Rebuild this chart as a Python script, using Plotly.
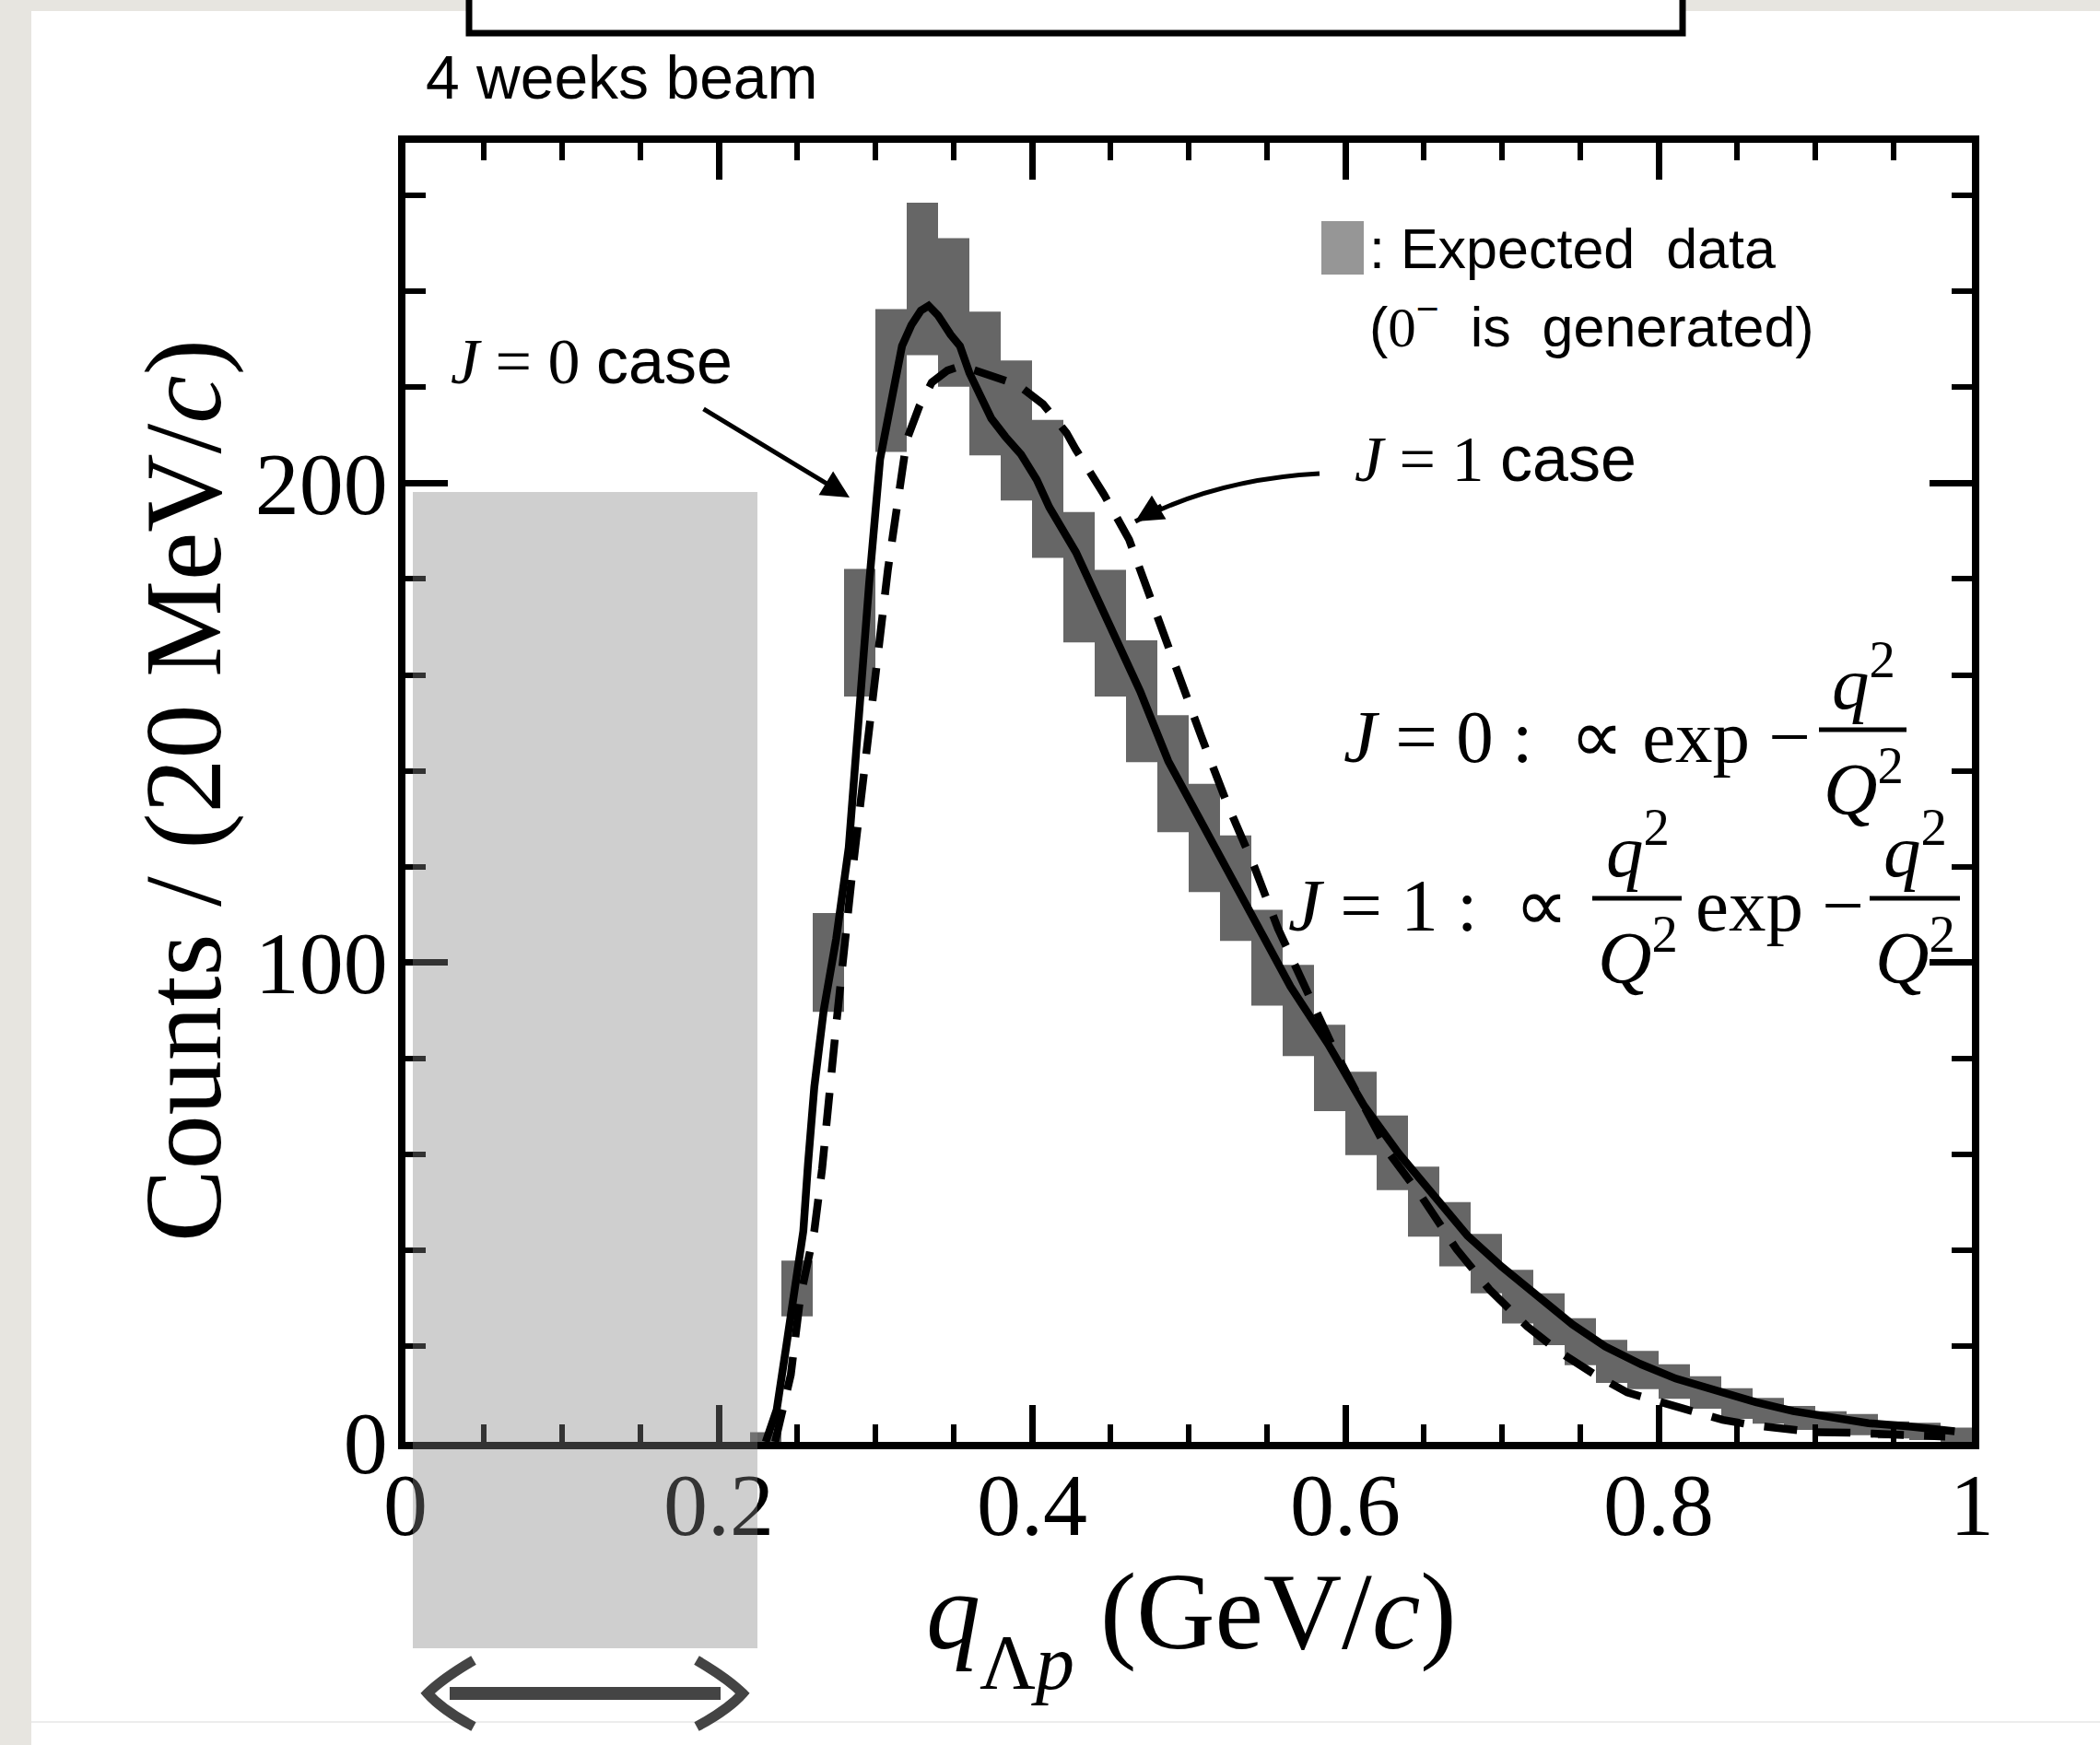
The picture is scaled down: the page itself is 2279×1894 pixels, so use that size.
import numpy as np
import plotly.graph_objects as go

# ---------------- data ----------------
# expected data, 20 MeV/c bins: bin centres, counts and their errors
bin_q = [0.23, 0.25, 0.27, 0.29, 0.31, 0.33, 0.35, 0.37, 0.39, 0.41,
         0.43, 0.45, 0.47, 0.49, 0.51, 0.53, 0.55, 0.57, 0.59, 0.61,
         0.63, 0.65, 0.67, 0.69, 0.71, 0.73, 0.75, 0.77, 0.79, 0.81,
         0.83, 0.85, 0.87, 0.89, 0.91, 0.93, 0.95, 0.97, 0.99]
counts = [1.0, 32.0, 100.0, 168.8, 221.4, 242.6, 235.6, 220.8, 211.0, 198.8,
          180.4, 168.7, 154.5, 139.4, 126.0, 115.5, 101.0, 90.0, 78.0, 68.5,
          60.3, 50.1, 43.3, 37.2, 30.3, 25.6, 20.9, 16.8, 15.0, 12.6,
          10.3, 8.0, 6.5, 5.0, 4.2, 3.6, 2.5, 2.2, 1.5]
count_err = [1.0, 5.8, 10.3, 13.3, 14.9, 15.9, 15.5, 15.0, 14.6, 14.4,
             13.6, 13.2, 12.7, 12.2, 11.3, 11.0, 10.0, 9.5, 9.0, 8.7,
             7.8, 7.3, 6.7, 6.2, 5.6, 5.4, 4.9, 4.5, 4.0, 3.6,
             3.4, 3.2, 2.7, 2.5, 2.2, 2.2, 1.8, 1.8, 1.5]

# J = 0 spectrum shape
j0_q = [0.230, 0.237, 0.243, 0.249, 0.254, 0.257, 0.261, 0.267, 0.275, 0.283,
        0.290, 0.296, 0.303, 0.311, 0.317, 0.323, 0.329, 0.334, 0.340, 0.348,
        0.354, 0.360, 0.368, 0.374, 0.383, 0.393, 0.403, 0.411, 0.428, 0.448,
        0.469, 0.487, 0.508, 0.530, 0.549, 0.565, 0.589, 0.612, 0.634, 0.655,
        0.678, 0.700, 0.723, 0.745, 0.766, 0.788, 0.811, 0.837, 0.862, 0.886,
        0.909, 0.934, 0.960, 0.989]
j0_counts = [0.0, 6.7, 19.7, 32.5, 44.0, 58.0, 74.0, 90.0, 105.0, 124.0,
             156.0, 179.0, 205.0, 219.5, 228.6, 233.0, 236.0, 237.0, 235.0, 231.0,
             228.6, 223.0, 218.0, 213.5, 209.7, 206.0, 200.7, 195.0, 185.6, 171.0,
             156.6, 142.0, 129.3, 115.7, 104.0, 95.0, 83.0, 70.1, 60.2, 51.7,
             43.0, 36.5, 30.2, 24.5, 19.9, 16.3, 13.2, 10.5, 8.3, 6.4,
             5.1, 3.9, 3.2, 2.2]

# J = 1 spectrum shape
j1_q = [0.236, 0.246, 0.252, 0.261, 0.266, 0.270, 0.275, 0.285, 0.296, 0.308,
        0.320, 0.328, 0.336, 0.346, 0.355, 0.370, 0.391, 0.407, 0.422, 0.428,
        0.446, 0.462, 0.477, 0.493, 0.508, 0.524, 0.542, 0.557, 0.575, 0.592,
        0.608, 0.628, 0.649, 0.671, 0.692, 0.716, 0.737, 0.759, 0.780, 0.800,
        0.819, 0.841, 0.860, 0.882, 0.901, 0.923, 0.944, 0.965, 0.983]
j1_counts = [0.0, 14.0, 30.0, 44.0, 57.0, 71.0, 87.0, 118.0, 149.0, 182.0,
             209.0, 216.0, 221.0, 223.5, 224.5, 223.0, 220.5, 216.5, 210.5, 207.0,
             197.6, 188.2, 174.5, 160.9, 147.2, 133.6, 119.9, 107.1, 94.3, 82.4,
             72.4, 60.2, 51.0, 40.2, 31.8, 24.1, 18.7, 14.1, 10.3, 8.3,
             6.4, 4.6, 3.5, 2.7, 2.0, 1.9, 1.6, 1.3, 1.1]

x_tickvals = [0, 0.2, 0.4, 0.6, 0.8, 1]
x_ticktext = ["0", "0.2", "0.4", "0.6", "0.8", "1"]
y_tickvals = [0, 100, 200]
y_ticktext = ["0", "100", "200"]

# ---------------- geometry helpers ----------------
W, H = 2279, 1894
L, R, T, B = 440, 139, 155, 329
PW, PH = W - L - R, H - T - B
Y_MAX = 271.0


def px(xp):
    """page pixel x -> paper x"""
    return (xp - L) / PW


def py(yp):
    """page pixel y -> paper y"""
    return (H - B - yp) / PH


def dx(xp):
    return px(xp) * 1.0


def dy(yp):
    return py(yp) * Y_MAX


SERIF = "Liberation Serif"
SANS = "Liberation Sans"

fig = go.Figure()

# expected data: boxes spanning count +- error
fig.add_trace(go.Bar(
    x=bin_q,
    y=[2 * e for e in count_err],
    base=[c - e for c, e in zip(counts, count_err)],
    width=0.02,
    marker=dict(color="#666666", line=dict(width=0)),
    showlegend=False,
    hoverinfo="skip",
))

fig.add_trace(go.Scatter(
    x=j0_q, y=j0_counts, mode="lines",
    line=dict(color="black", width=8.5),
    showlegend=False, hoverinfo="skip",
))
fig.add_trace(go.Scatter(
    x=j1_q, y=j1_counts, mode="lines",
    line=dict(color="black", width=8.5, dash="36px,22px"),
    showlegend=False, hoverinfo="skip",
))

x_minor = [v for v in np.round(np.arange(0, 1.0001, 0.05), 3) if v not in x_tickvals]
y_minor = [v for v in range(0, 272, 20) if v not in y_tickvals]

axis_common = dict(
    showline=True, linewidth=8, linecolor="black", mirror="ticks",
    ticks="inside", tickcolor="black", tickwidth=7,
    showgrid=False, zeroline=False,
    tickfont=dict(family=SERIF, size=96, color="black"),
)

fig.update_xaxes(
    range=[0, 1], tickmode="array", tickvals=x_tickvals, ticktext=x_ticktext,
    ticklen=40, ticklabelstandoff=-22,
    minor=dict(ticks="inside", ticklen=19, tickwidth=6, tickcolor="black",
               tickmode="array", tickvals=x_minor),
    **axis_common,
)
fig.update_yaxes(
    range=[0, Y_MAX], tickmode="array", tickvals=y_tickvals, ticktext=y_ticktext,
    ticklen=46, ticklabelstandoff=-8,
    minor=dict(ticks="inside", ticklen=22, tickwidth=6, tickcolor="black",
               tickmode="array", tickvals=y_minor),
    **axis_common,
)

shapes = []
# slide card
shapes.append(dict(type="rect", xref="paper", yref="paper", layer="below",
                   x0=px(34), x1=px(W + 10), y0=py(12), y1=py(H + 10),
                   fillcolor="white", line=dict(width=0)))
shapes.append(dict(type="line", xref="paper", yref="paper", layer="below",
                   x0=px(34), x1=px(W), y0=py(1869), y1=py(1869),
                   line=dict(color="#ececec", width=2)))
# box cut at the top of the page
shapes.append(dict(type="rect", xref="paper", yref="paper", layer="above",
                   x0=px(509), x1=px(1826), y0=py(-20), y1=py(36),
                   fillcolor="white", line=dict(color="black", width=7)))
# legend swatch
shapes.append(dict(type="rect", xref="paper", yref="paper", layer="above",
                   x0=px(1434), x1=px(1480), y0=py(298), y1=py(240),
                   fillcolor="#969696", line=dict(width=0)))
# fraction bars
for x0, x1, yb in [(1974, 2069, 792), (1728, 1825, 975), (2029, 2127, 975)]:
    shapes.append(dict(type="line", xref="paper", yref="paper", layer="above",
                       x0=px(x0), x1=px(x1), y0=py(yb), y1=py(yb),
                       line=dict(color="black", width=5)))
# curved pointer to the J = 1 curve
tail = (dx(1432), dy(514))
ctrl = (dx(1320), dy(520))
head = (dx(1232), dy(566))
shapes.append(dict(type="path", xref="x", yref="y", layer="above",
                   path=f"M {tail[0]},{tail[1]} Q {ctrl[0]},{ctrl[1]} {head[0]},{head[1]}",
                   line=dict(color="black", width=5)))
# shaded low-q region
shapes.append(dict(type="rect", xref="paper", yref="paper", layer="above",
                   x0=px(448), x1=px(822), y0=py(1789), y1=py(534),
                   fillcolor="rgba(131,131,131,0.39)", line=dict(width=0)))
# double arrow below the shaded region
arrow_col = "#444444"
shapes.append(dict(type="line", xref="paper", yref="paper", layer="above",
                   x0=px(488), x1=px(782), y0=py(1838), y1=py(1838),
                   line=dict(color=arrow_col, width=14)))
shapes.append(dict(type="path", xref="paper", yref="paper", layer="above",
                   path=(f"M {px(514)},{py(1802)} Q {px(480)},{py(1822)} {px(464)},{py(1838)} "
                         f"Q {px(480)},{py(1856)} {px(514)},{py(1874)}"),
                   line=dict(color=arrow_col, width=11)))
shapes.append(dict(type="path", xref="paper", yref="paper", layer="above",
                   path=(f"M {px(756)},{py(1802)} Q {px(790)},{py(1822)} {px(806)},{py(1838)} "
                         f"Q {px(790)},{py(1856)} {px(756)},{py(1874)}"),
                   line=dict(color=arrow_col, width=11)))

ann = []


def text(xp, yp, s, size, family=SERIF, xanchor="left", angle=0):
    ann.append(dict(x=px(xp), y=py(yp), xref="paper", yref="paper", text=s,
                    showarrow=False, xanchor=xanchor, yanchor="middle",
                    textangle=angle,
                    font=dict(family=family, size=size, color="black")))


def sans(s):
    return f'<span style="font-family:{SANS}">{s}</span>'


text(460, 84, "4 weeks beam", 66, SANS)
text(487, 392, "<i>J</i> = 0 " + sans("case"), 70)
text(1468, 498, "<i>J</i> = 1 " + sans("case"), 70)
text(1484, 270, ": Expected&nbsp; data", 61, SANS)
text(1484, 350, "(" + '<span style="font-family:Liberation Serif">0</span>'
     + "<sup>−</sup>&nbsp; is&nbsp; generated)", 61, SANS)

# formulas
FS = 81
text(1456, 800, "<i>J</i> = 0 :&nbsp;&nbsp;∝ exp −", FS)
text(2022, 735, "<i>q</i><sup>2</sup>", FS, xanchor="center")
text(2022, 850, "<i>Q</i><sup>2</sup>", FS, xanchor="center")
text(1396, 983, "<i>J</i> = 1 :&nbsp;&nbsp;∝", FS)
text(1777, 918, "<i>q</i><sup>2</sup>", FS, xanchor="center")
text(1777, 1033, "<i>Q</i><sup>2</sup>", FS, xanchor="center")
text(1838, 983, "exp&nbsp;−", FS)
text(2078, 918, "<i>q</i><sup>2</sup>", FS, xanchor="center")
text(2078, 1033, "<i>Q</i><sup>2</sup>", FS, xanchor="center")

# axis titles
text(199, 858, "Counts / (20 MeV/<i>c</i>)", 118, xanchor="center", angle=-90)
text(1003, 1750, "<i>q</i>", 118)
text(1061, 1804, "Λ<i>p</i>", 84)
text(1192, 1750, "(GeV/<i>c</i>)", 118)

# pointer to the J = 0 curve
ann.append(dict(x=dx(922), y=dy(540), xref="x", yref="y",
                ax=dx(762), ay=dy(443), axref="x", ayref="y",
                text="", showarrow=True, arrowhead=2, arrowsize=1.2,
                arrowwidth=5, arrowcolor="black", standoff=0))
# arrow head of the J = 1 pointer
ann.append(dict(x=head[0], y=head[1], xref="x", yref="y",
                ax=dx(1262), ay=dy(548), axref="x", ayref="y",
                text="", showarrow=True, arrowhead=2, arrowsize=1.2,
                arrowwidth=5, arrowcolor="black", standoff=0))

fig.update_layout(
    width=W, height=H,
    margin=dict(l=L, r=R, t=T, b=B, pad=0),
    paper_bgcolor="#e7e5e0",
    plot_bgcolor="white",
    barmode="overlay",
    showlegend=False,
    shapes=shapes,
    annotations=ann,
)

fig.write_html("out.html")
